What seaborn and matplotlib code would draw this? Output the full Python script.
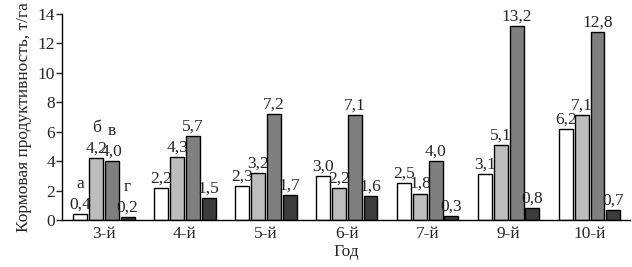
import numpy as np
import pandas as pd
import matplotlib
matplotlib.use('Agg')
import matplotlib.pyplot as plt
import seaborn as sns

years = ['3-й', '4-й', '5-й', '6-й', '7-й', '9-й', '10-й']
series = ['а', 'б', 'в', 'г']
val_a = [0.4, 2.2, 2.3, 3.0, 2.5, 3.1, 6.2]
val_b = [4.2, 4.3, 3.2, 2.2, 1.8, 5.1, 7.1]
val_v = [4.0, 5.7, 7.2, 7.1, 4.0, 13.2, 12.8]
val_g = [0.2, 1.5, 1.7, 1.6, 0.3, 0.8, 0.7]

df = pd.DataFrame({'Год': years * 4,
                   'serie': [s for s in series for _ in years],
                   'val': val_a + val_b + val_v + val_g})

sns.set_style('ticks')
plt.rcParams['font.family'] = ['Liberation Serif', 'DejaVu Serif']

fig = plt.figure(figsize=(6.32, 2.67), dpi=100)
ax = fig.add_axes([0.098, 0.176, 0.899, 0.772])

pal = ['#ffffff', '#bdbdbd', '#7f7f7f', '#3c3c3c']
sns.barplot(data=df, x='Год', y='val', hue='serie', palette=pal,
            edgecolor='black', linewidth=1, width=0.78, gap=0.12,
            legend=False, ax=ax)

for cont in ax.containers:
    ax.bar_label(cont, labels=[f'{v:.1f}'.replace('.', ',') for v in cont.datavalues],
                 padding=1, fontsize=12.5)

# letters over the first group
for s, bar in zip(series, [c[0] for c in ax.containers]):
    ax.annotate(s, (bar.get_x() + bar.get_width() / 2, bar.get_height()),
                xytext=(0, 16), textcoords='offset points',
                ha='center', va='bottom', fontsize=12.5)

ax.set_ylim(0, 14)
ax.set_yticks(range(0, 15, 2))
ax.set_xlim(-0.52, 6.5)
ax.set_ylabel('Кормовая продуктивность, т/га', fontsize=12.5)
ax.set_xlabel('Год', fontsize=12.5, labelpad=2)
ax.tick_params(axis='y', labelsize=12.5, length=4, width=1, pad=1)
ax.tick_params(axis='x', labelsize=12.5, length=0, pad=4)
sns.despine(ax=ax)
for sp in ['left', 'bottom']:
    ax.spines[sp].set_color('black')
    ax.spines[sp].set_linewidth(1)

fig.savefig('out.png', dpi=100)
